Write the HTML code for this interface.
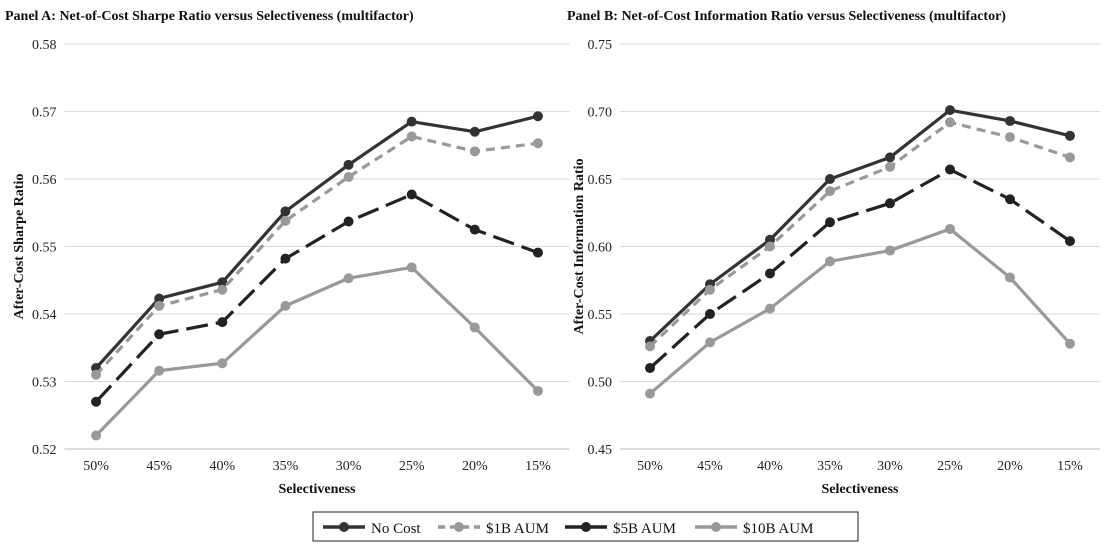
<!DOCTYPE html>
<html><head><meta charset="utf-8"><style>
body{margin:0;background:#fff;width:1107px;height:546px;overflow:hidden;font-family:"Liberation Serif",serif}
svg text{font-family:"Liberation Serif",serif}
</style></head><body>
<svg id="c" width="1107" height="546"></svg>
<script>
const categories=["50%","45%","40%","35%","30%","25%","20%","15%"];
const seriesNames=["No Cost","$1B AUM","$5B AUM","$10B AUM"];
const aNoCost=[0.532,0.5423,0.5447,0.5552,0.5621,0.5685,0.5670,0.5693];
const a1B=[0.531,0.5412,0.5436,0.5538,0.5603,0.5663,0.5641,0.5653];
const a5B=[0.527,0.5370,0.5388,0.5482,0.5537,0.5577,0.5525,0.5491];
const a10B=[0.522,0.5316,0.5327,0.5412,0.5453,0.5469,0.5380,0.5286];
const bNoCost=[0.530,0.572,0.605,0.650,0.666,0.701,0.693,0.682];
const b1B=[0.526,0.568,0.600,0.641,0.659,0.692,0.681,0.666];
const b5B=[0.510,0.550,0.580,0.618,0.632,0.657,0.635,0.604];
const b10B=[0.491,0.529,0.554,0.589,0.597,0.613,0.577,0.528];
const aTicks=[0.52,0.53,0.54,0.55,0.56,0.57,0.58];
const bTicks=[0.45,0.50,0.55,0.60,0.65,0.70,0.75];
const styles=[{c:"#333",d:""},{c:"#999",d:"9,6"},{c:"#222",d:"22,8"},{c:"#999",d:""}];
const NS="http://www.w3.org/2000/svg";
const svg=document.getElementById('c');
function mk(t,a,p){const e=document.createElementNS(NS,t);for(const k in a)e.setAttribute(k,a[k]);(p||svg).appendChild(e);return e;}
function panel(name,title,ytitle,x0,x1,ticks,series,dec,tx,ytx){
  const g=mk('g',{});
  
  
  const yTop=44,yBot=449,ymin=ticks[0],ymax=ticks[ticks.length-1];
  const y=v=>yBot-(v-ymin)/(ymax-ymin)*(yBot-yTop);
  const bw=(x1-x0)/categories.length;
  const x=i=>x0+bw*(i+0.5);
  const t=mk('text',{x:tx,y:20,'font-size':14,'font-weight':'bold',fill:'#111'},g);t.textContent=title;
  
  ticks.forEach(v=>{
    mk('line',{x1:x0,x2:x1,y1:y(v),y2:y(v),stroke:v===ymin?'#bbb':'#d9d9d9','stroke-width':1},g);
    const l=mk('text',{x:x0-8,y:y(v)+5,'text-anchor':'end','font-size':14,fill:'#222'},g);l.textContent=v.toFixed(dec);
    
  });
  categories.forEach((c,i)=>{
    const l=mk('text',{x:x(i),y:470,'text-anchor':'middle','font-size':14,fill:'#222'},g);l.textContent=c;
    
  });
  const xt=mk('text',{x:(x0+x1)/2,y:493,'text-anchor':'middle','font-size':14,'font-weight':'bold',fill:'#111'},g);xt.textContent='Selectiveness';
  
  const yt=mk('text',{x:0,y:0,'text-anchor':'middle','font-size':14,'font-weight':'bold',fill:'#111',transform:`translate(${ytx},${(yTop+yBot)/2}) rotate(-90)`},g);yt.textContent=ytitle;
  
  series.forEach((s,k)=>{
    const st=styles[k];
    const p=mk('polyline',{points:s.map((v,i)=>x(i)+','+y(v)).join(' '),fill:'none',stroke:st.c,'stroke-width':3.2,'stroke-dasharray':st.d},g);
    
    
    s.forEach((v,i)=>{const m=mk('circle',{cx:x(i),cy:y(v),r:5,fill:st.c},g);
      });
  });
}
panel('panel-a','Panel A: Net-of-Cost Sharpe Ratio versus Selectiveness (multifactor)','After-Cost Sharpe Ratio',64.5,569.5,aTicks,[aNoCost,a1B,a5B,a10B],2,5,23);
panel('panel-b','Panel B: Net-of-Cost Information Ratio versus Selectiveness (multifactor)','After-Cost Information Ratio',620,1100,bTicks,[bNoCost,b1B,b5B,b10B],2,567,583);
const lg=mk('g',{});


mk('rect',{x:313,y:512,width:545,height:29,fill:'#fff',stroke:'#222','stroke-width':1},lg);
const lx=[323,438,565,695];
seriesNames.forEach((n,k)=>{
  const st=styles[k];const e=mk('g',{},lg);
  
  
  mk('line',{x1:lx[k],x2:lx[k]+42,y1:527,y2:527,stroke:st.c,'stroke-width':3.5,'stroke-dasharray':k===1?'7,5':''},e);
  mk('circle',{cx:lx[k]+21,cy:527,r:5,fill:st.c},e);
  const t=mk('text',{x:lx[k]+48,y:533,'font-size':15,fill:'#111'},e);t.textContent=n;
});
</script>
</body></html>
